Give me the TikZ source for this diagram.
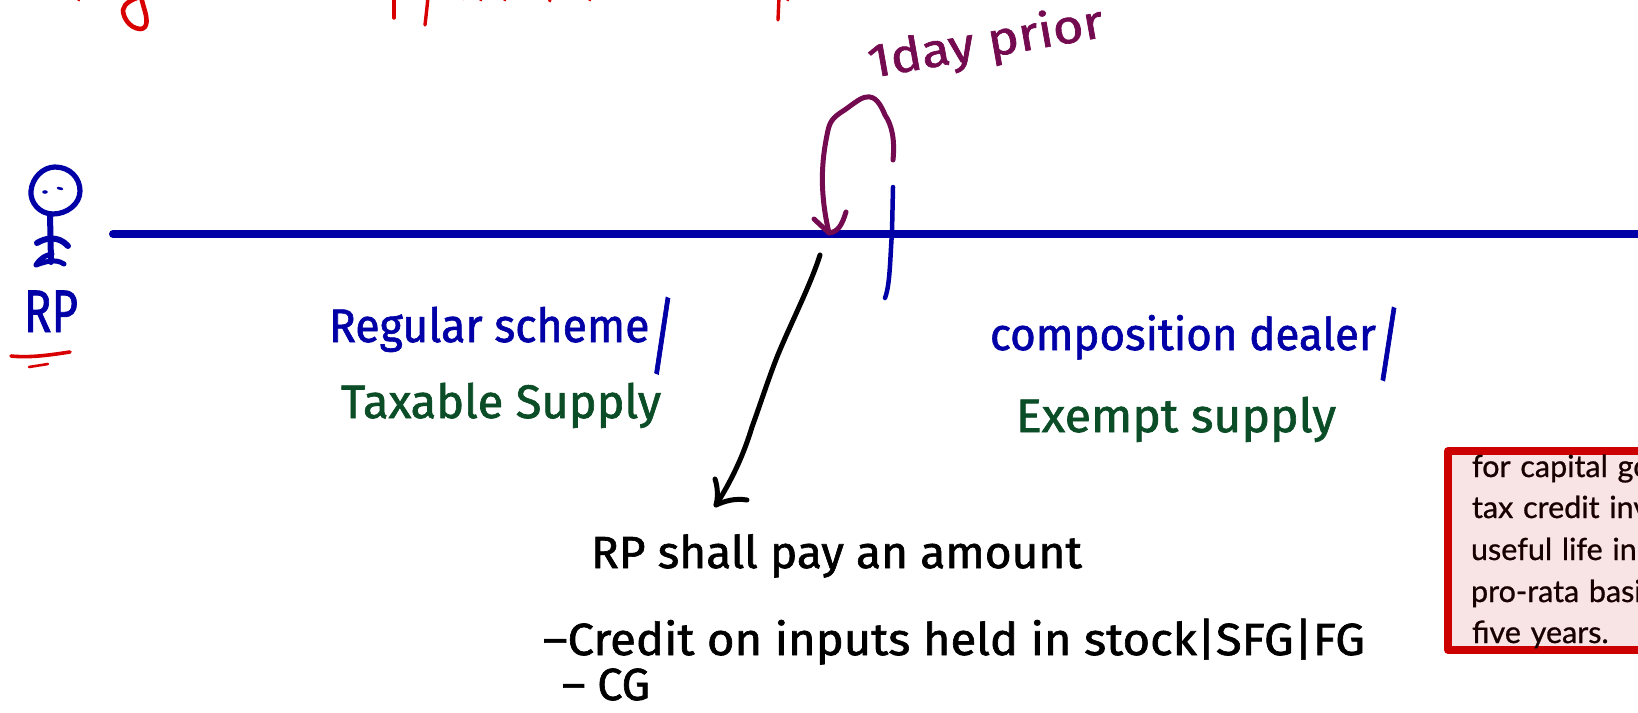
\documentclass[tikz,border=0pt]{standalone}
\usepackage{fontspec}
\usepackage{graphicx}
\setmainfont{Fira Sans}[BoldFont=Fira Sans,BoldFeatures={FakeBold=1.4}]
\newfontfamily\boxfont{Lato}[BoldFont=Lato,BoldFeatures={FakeBold=0.8},WordSpace=1.25]
\definecolor{inkblue}{HTML}{0000A6}
\definecolor{inkgreen}{HTML}{0B4D26}
\definecolor{inkmaroon}{HTML}{740A50}
\definecolor{inkred}{HTML}{D80000}
\definecolor{boxfill}{HTML}{F9E4E5}
\definecolor{boxedge}{HTML}{CC0000}
\newcommand{\fitw}[2]{\resizebox{#1pt}{\height}{#2}}
\newcommand{\tallslash}{\raisebox{-0.5em}{\scalebox{1.1}[1.8]{/}}}
\tikzset{
  hand/.style={anchor=base west,inner sep=0pt,outer sep=0pt},
  big/.style={hand,font=\bfseries\fontsize{47}{50}\selectfont},
  mid/.style={hand,font=\bfseries\fontsize{45}{48}\selectfont},
  boxline/.style={hand,text=black!90!red,font=\boxfont\bfseries\fontsize{30.5}{33}\selectfont},
  pen/.style={line cap=round,line join=round},
  bluepen/.style={pen,draw=inkblue,line width=4.5pt},
  redpen/.style={pen,draw=inkred,line width=3.4pt},
}
\begin{document}
\begin{tikzpicture}[x=1pt,y=-1pt]
\useasboundingbox (0,0) rectangle (1638,712);
\clip (0,0) rectangle (1638,712);
% cut-off strokes at the top edge
\draw[redpen,line width=4.6pt] (140,-3) .. controls (133,-1) and (124,3) .. (123,10) .. controls (123,17) and (129,28) .. (140,29) .. controls (149,29) and (147,17) .. (144,8) -- (141,-3);
\draw[redpen] (394,-3) -- (394,18);
\draw[redpen] (428,-3) .. controls (427,8) and (426,16) .. (425,25);
\draw[redpen] (779,-3) -- (778,20);
\foreach \bx/\by in {79/0,463/-1,481/0,505/0,550/1,590/0,788/0}{
  \draw[redpen,line width=3pt] (\bx-2,-4) -- (\bx,\by);
}
% time line and the tick through it
\coordinate (lineL) at (113,234);
\coordinate (lineR) at (1640,234);
\draw[pen,draw=inkblue,line width=8pt] (lineL) -- (lineR);
\coordinate (tickT) at (893,187);
\coordinate (tickB) at (885,298);
\draw[bluepen] (tickT) -- (892,232) .. controls (890,260) and (890,285) .. (tickB);
% person
\draw[bluepen,line width=5.2pt] (55,167) .. controls (70,167) and (80,178) .. (80,191) .. controls (80,204) and (67,214) .. (53,214) .. controls (39,214) and (30,202) .. (31,191) .. controls (32,178) and (43,167) .. (55,167) -- cycle;
\draw[bluepen,line width=6pt] (50,214) -- (51,262);
\draw[bluepen,line width=6pt] (37,243) .. controls (45,238) and (58,235) .. (68,246);
\draw[bluepen,line width=5pt] (36,265) .. controls (40,258) and (46,255) .. (52,254) (36,265) .. controls (45,262) and (55,258) .. (64,264);
\fill[inkblue] (45,192) ellipse (2.8 and 1.8);
\draw[bluepen,line width=2.6pt] (58,188) -- (62,189);
\node[hand,text=inkblue,font=\bfseries\fontsize{60}{62}\selectfont] (rp) at (24,332) {\fitw{54}{RP}};
\draw[redpen,line width=3.6pt] (11,356) .. controls (30,358) and (50,355) .. (70,352);
\draw[redpen,line width=2.6pt] (29,367) -- (48,364);
% one day prior loop
\coordinate (loopS) at (893,160);
\coordinate (loopE) at (829,233);
\draw[pen,draw=inkmaroon,line width=5pt] (loopS) .. controls (895,140) and (892,125) .. (885,115) .. controls (880,103) and (875,96) .. (867,97) .. controls (860,97) and (850,107) .. (840,113) .. controls (830,120) and (829,125) .. (827,135) .. controls (822,160) and (819,190) .. (loopE);
\draw[pen,draw=inkmaroon,line width=5pt] (814,219) -- (loopE) .. controls (838,232) and (842,225) .. (846,212);
\node[hand,text=inkmaroon,font=\bfseries\fontsize{47}{50}\selectfont,rotate=10] (prior) at (871,78) {\fitw{238}{1day prior}};
% black arrow
\coordinate (arrS) at (820,255);
\coordinate (arrE) at (716,505);
\draw[pen,draw=black,line width=5pt] (arrS) .. controls (811,284) and (790,325) .. (777,357) .. controls (768,380) and (760,405) .. (752,427) .. controls (745,450) and (735,475) .. (arrE);
\draw[pen,draw=black,line width=5pt] (715,479) .. controls (718,488) and (718,498) .. (arrE) .. controls (725,501) and (735,498) .. (747,500);
% labels
\node[big,text=inkblue] (reg) at (329,342) {\fitw{346}{Regular scheme\tallslash}};
\node[big,text=inkgreen] (tax) at (341,418) {\fitw{320}{Taxable Supply}};
\node[mid,text=inkblue] (comp) at (990,350) {\fitw{411}{composition dealer\tallslash}};
\node[big,text=inkgreen] (ex) at (1016,432) {\fitw{320}{Exempt supply}};
\node[mid,text=black] (pay) at (591,568) {\fitw{491}{RP shall pay an amount}};
\node[mid,text=black] (cred) at (543,655) {\fitw{822}{–Credit on inputs held in stock|SFG|FG}};
\node[mid,text=black] (cg) at (562,700) {\fitw{88}{– CG}};
% red box
\path[pen,fill=boxfill,draw=boxedge,line width=7.5pt] (1660,451) -- (1448,451) -- (1448,650) -- (1660,650);
\node[boxline] (b1) at (1472,477) {for capital go};
\node[boxline] (b2) at (1472,518) {tax credit inv};
\node[boxline] (b3) at (1471,560) {useful life in};
\node[boxline] (b4) at (1471,602) {pro-rata basi};
\node[boxline] (b5) at (1472,643) {five years.};
\end{tikzpicture}
\end{document}
